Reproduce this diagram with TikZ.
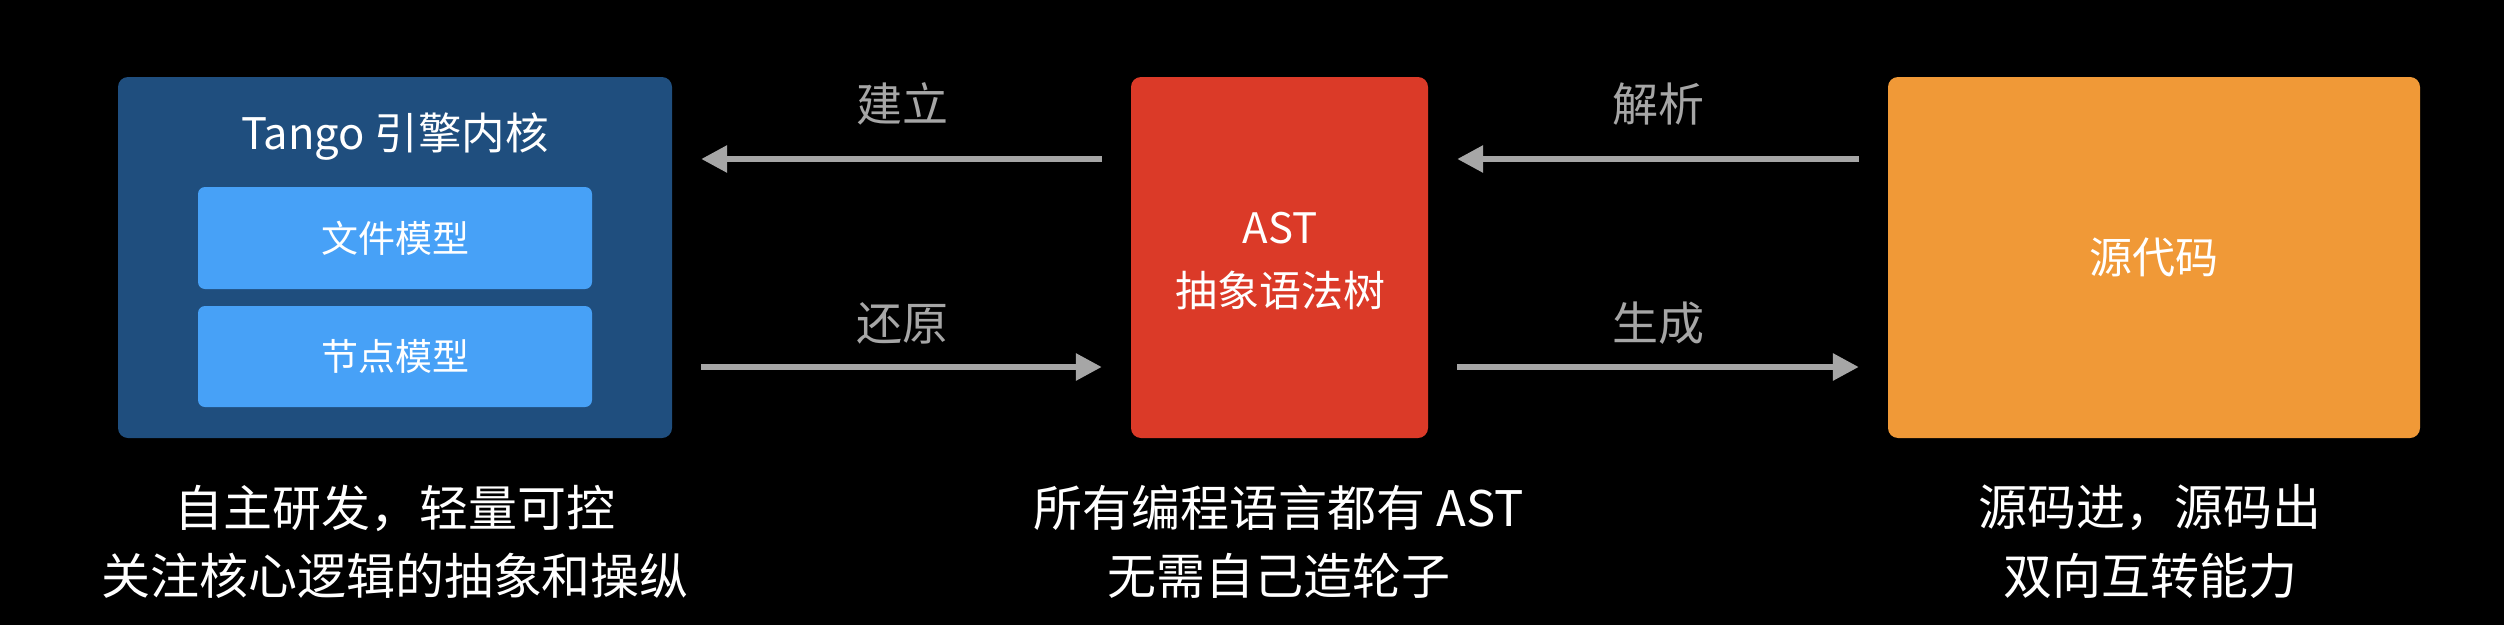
\documentclass[tikz,border=0pt]{standalone}
\usepackage{fontspec}
\setmainfont{Noto Sans CJK SC}
\usetikzlibrary{arrows.meta}
\definecolor{bgc}{HTML}{000000}
\definecolor{corec}{HTML}{1F4E7E}
\definecolor{innerc}{HTML}{47A1F7}
\definecolor{astc}{HTML}{DB3A28}
\definecolor{srcc}{HTML}{F09937}
\definecolor{grayc}{HTML}{A6A6A6}
\tikzset{
  bigbox/.style={draw=none, rounded corners=10pt, inner sep=0pt},
  innerbox/.style={draw=none, fill=innerc, rounded corners=7pt, inner sep=0pt},
  arr/.style={draw=grayc, line width=6pt, -{Triangle[length=26pt,width=26pt]}, shorten <=29pt, shorten >=29pt},
  lbl/.style={text=grayc, font=\fontsize{46pt}{50pt}\selectfont, inner sep=0pt},
  captext/.style={text=white, font=\fontsize{49pt}{70pt}\selectfont, align=center, inner sep=0pt},
}
\begin{document}
\begin{tikzpicture}[x=1pt,y=-1pt]
\useasboundingbox (0,0) rectangle (2504,624);
\fill[bgc] (-10,-10) rectangle (2514,634);
% boxes
\node[bigbox, fill=corec, minimum width=554pt, minimum height=361pt] (core) at (395,257.5) {};
\node[text=white, font=\fontsize{43.5pt}{50pt}\selectfont, inner sep=0pt] (title) at (395,136.5) {Tango 引擎内核};
\node[innerbox, minimum width=394pt, minimum height=102pt, text=white, font=\fontsize{37pt}{44pt}\selectfont] (file) at (395,238) {文件模型};
\node[innerbox, minimum width=394pt, minimum height=101pt, text=white, font=\fontsize{37pt}{44pt}\selectfont] (nodem) at (395,356.5) {节点模型};
\node[bigbox, fill=astc, minimum width=297pt, minimum height=361pt] (ast) at (1279.5,257.5) {};
\node[text=white, font=\fontsize{42pt}{50pt}\selectfont, inner sep=0pt] (astt1) at (1280,228) {AST};
\node[text=white, font=\fontsize{42pt}{50pt}\selectfont, inner sep=0pt] (astt2) at (1280,290) {抽象语法树};
\node[bigbox, fill=srcc, minimum width=532pt, minimum height=361pt, text=white, font=\fontsize{43pt}{50pt}\selectfont] (src) at (2154,257.5) {源代码};
% arrows
\coordinate (ya) at (0,159);
\coordinate (yb) at (0,367);
\draw[arr] (ast.west |- ya) -- (core.east |- ya);
\draw[arr] (core.east |- yb) -- (ast.west |- yb);
\draw[arr] (src.west |- ya) -- (ast.east |- ya);
\draw[arr] (ast.east |- yb) -- (src.west |- yb);
\node[lbl] (l1) at (902,104) {建立};
\node[lbl] (l2) at (902,323) {还原};
\node[lbl] (l3) at (1658,104) {解析};
\node[lbl] (l4) at (1658,323) {生成};
% captions
\node[captext] (c1a) at (395,508) {自主研发，轻量可控};
\node[captext] (c1b) at (395,576) {关注核心逻辑的抽象和操纵};
\node[captext] (c2a) at (1279,508) {所有编程语言都有 AST};
\node[captext] (c2b) at (1279,576) {无需自己造轮子};
\node[captext] (c3a) at (2150,508) {源码进，源码出};
\node[captext] (c3b) at (2150,576) {双向互转能力};
\end{tikzpicture}
\end{document}
